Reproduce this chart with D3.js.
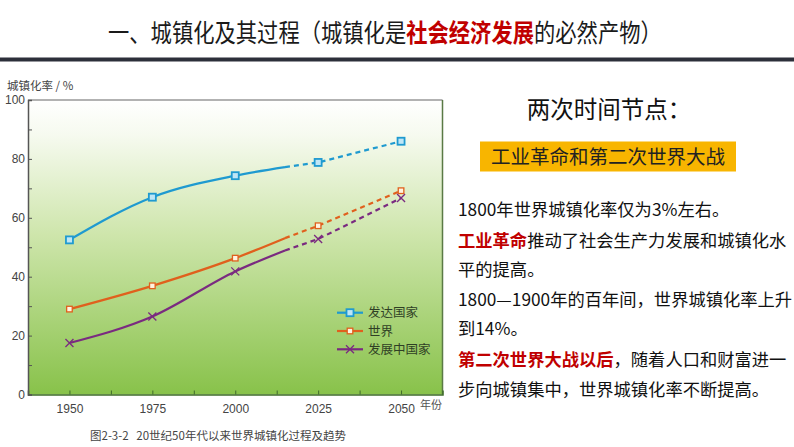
<!DOCTYPE html>
<html><head><meta charset="utf-8">
<script src="https://cdn.jsdelivr.net/npm/d3@7"></script>
<style>
html,body{margin:0;padding:0;background:#fff;}
svg{display:block;}
</style></head>
<body>
<svg id="c" width="794" height="447"></svg>
<script>
// ---- data ----
const yearsSolid = [1950, 1975, 2000, 2015];
const yearsDash = [2015, 2025, 2050];
const markerYears = [1950, 1975, 2000, 2025, 2050];
const allYears = [1950, 1975, 2000, 2015, 2025, 2050];
const developed = [52.5, 67.0, 74.3, 77.2, 78.8, 86.0];
const world     = [29.0, 36.9, 46.3, 53.1, 57.3, 69.2];
const developing= [17.5, 26.5, 41.8, 48.9, 52.8, 66.7];
const seriesNames = ["发达国家", "世界", "发展中国家"];
const xTicks = [1950, 1975, 2000, 2025, 2050];
const xMinor = [1962.5, 1987.5, 2012.5, 2037.5];
const yTicks = [0, 20, 40, 60, 80, 100];
const yMinor = [10, 30, 50, 70, 90];

const svg = d3.select("#c");
const font = "'Noto Sans CJK SC','Noto Sans',sans-serif";

// title: one text with tspans, horizontally condensed via a group transform
const titleParts = [["一、城镇化及其过程（城镇化是", 0], ["社会经济发展", 1], ["的必然产物）", 0]];
const tg = svg.append("g");
const title = tg.append("text").attr("x", 0).attr("y", 0).attr("font-family", font).attr("font-size", 25).attr("fill", "#1a1a1a");
titleParts.forEach(([s, red]) => {
  const ts = title.append("tspan").text(s);
  if (red) ts.attr("fill", "#c00000").attr("font-weight", "bold");
});
const tw = title.node().getComputedTextLength();
tg.attr("transform", `translate(108,42) scale(${554 / tw},1)`);
svg.append("rect").attr("x", 0).attr("y", 57.5).attr("width", 794).attr("height", 4).attr("fill", "#2c2f3a");

// chart
const L = 28, R = 442.5, T = 100, B = 394.5;
const x = d3.scaleLinear().domain([1937.5, 2062.5]).range([L, R]);
const y = d3.scaleLinear().domain([0, 100]).range([B, T]);

const defs = svg.append("defs");
const g = defs.append("linearGradient").attr("id", "bg").attr("x1", 0).attr("y1", 0).attr("x2", 0).attr("y2", 1);
g.append("stop").attr("offset", "0%").attr("stop-color", "#ffffff");
g.append("stop").attr("offset", "12%").attr("stop-color", "#f6faef");
g.append("stop").attr("offset", "45%").attr("stop-color", "#cfe6ad");
g.append("stop").attr("offset", "100%").attr("stop-color", "#88c24a");

svg.append("rect").attr("x", L).attr("y", T).attr("width", R - L).attr("height", B - T).attr("fill", "url(#bg)");
svg.append("line").attr("x1", L).attr("x2", R).attr("y1", T).attr("y2", T).attr("stroke", "#666").attr("stroke-width", 1.2);
svg.append("line").attr("x1", R).attr("x2", R).attr("y1", T).attr("y2", B).attr("stroke", "#5a7a45").attr("stroke-width", 1.5);

// axes
const xAxis = svg.append("g").attr("transform", `translate(0,${B})`)
  .call(d3.axisBottom(x).tickValues(xTicks).tickSize(-4).tickPadding(10).tickFormat(d3.format("d")));
xAxis.select(".domain").attr("stroke", "#3f6b2a").attr("stroke-width", 1.5);
xAxis.selectAll(".tick line").attr("stroke", "#3f6b2a");
xAxis.selectAll("text").attr("font-family", "'Liberation Sans',Arial,sans-serif").attr("font-size", 12).attr("fill", "#444");
svg.append("g").attr("transform", `translate(0,${B})`)
  .call(d3.axisBottom(x).tickValues(xMinor).tickSize(-4).tickFormat(""))
  .call(a => a.select(".domain").remove()).selectAll("line").attr("stroke", "#3f6b2a");
svg.append("text").attr("x", 420).attr("y", 409).attr("font-family", font).attr("font-size", 11).attr("fill", "#555").text("年份");

const yAxis = svg.append("g").attr("transform", `translate(${L},0)`)
  .call(d3.axisLeft(y).tickValues(yTicks).tickSize(-4).tickPadding(3));
yAxis.select(".domain").attr("stroke", "#555").attr("stroke-width", 1.5);
yAxis.selectAll(".tick line").attr("stroke", "#555");
yAxis.selectAll("text").attr("font-family", "'Liberation Sans',Arial,sans-serif").attr("font-size", 12).attr("fill", "#444");
svg.append("g").attr("transform", `translate(${L},0)`)
  .call(d3.axisLeft(y).tickValues(yMinor).tickSize(-4).tickFormat(""))
  .call(a => a.select(".domain").remove()).selectAll("line").attr("stroke", "#555");
svg.append("text").attr("x", 7).attr("y", 90).attr("font-family", font).attr("font-size", 11.5).attr("fill", "#444").text("城镇化率 / %");

// series
const colors = ["#1f9ad0", "#e0601d", "#7a2a80"];
const data = [developed, world, developing];
const solidLine = d3.line().x(d => x(d[0])).y(d => y(d[1])).curve(d3.curveMonotoneX);
const dashLine = d3.line().x(d => x(d[0])).y(d => y(d[1]));

function drawMarker(i, cx, cy) {
  if (i === 0) {
    svg.append("rect").attr("x", cx - 3.5).attr("y", cy - 3.5).attr("width", 7).attr("height", 7)
      .attr("fill", "#bfe6f6").attr("stroke", colors[0]).attr("stroke-width", 1.8);
  } else if (i === 1) {
    svg.append("rect").attr("x", cx - 2.8).attr("y", cy - 2.8).attr("width", 5.6).attr("height", 5.6)
      .attr("fill", "#fff3e0").attr("stroke", colors[1]).attr("stroke-width", 1.3);
  } else {
    const s = 4;
    svg.append("path").attr("d", `M${cx - s},${cy - s}L${cx + s},${cy + s}M${cx - s},${cy + s}L${cx + s},${cy - s}`)
      .attr("stroke", colors[2]).attr("stroke-width", 1.3).attr("fill", "none");
  }
}

data.forEach((vals, i) => {
  const pts = allYears.map((yr, j) => [yr, vals[j]]);
  const solid = pts.filter(p => yearsSolid.includes(p[0]));
  const dash = pts.filter(p => yearsDash.includes(p[0]));
  svg.append("path").attr("d", solidLine(solid)).attr("fill", "none").attr("stroke", colors[i]).attr("stroke-width", 2.2);
  svg.append("path").attr("d", dashLine(dash)).attr("fill", "none").attr("stroke", colors[i]).attr("stroke-width", 2.2)
    .attr("stroke-dasharray", "5,4");
  pts.filter(p => markerYears.includes(p[0])).forEach(p => drawMarker(i, x(p[0]), y(p[1])));
});

// legend
const legY = [312.7, 331, 349.3];
seriesNames.forEach((n, i) => {
  svg.append("line").attr("x1", 337).attr("x2", 363).attr("y1", legY[i]).attr("y2", legY[i])
    .attr("stroke", colors[i]).attr("stroke-width", 2.2);
  drawMarker(i, 350, legY[i]);
  svg.append("text").attr("x", 368).attr("y", legY[i] + 4.5).attr("font-family", font).attr("font-size", 12.5)
    .attr("fill", "#2f3f25").text(n);
});

// caption
svg.append("text").attr("x", 90).attr("y", 440).attr("font-family", font).attr("font-size", 11.5).attr("fill", "#444")
  .text("图2-3-2\u00a0\u00a0\u00a020世纪50年代以来世界城镇化过程及趋势");

// right panel
svg.append("text").attr("x", 609).attr("y", 118).attr("text-anchor", "middle").attr("font-family", font)
  .attr("font-size", 23.5).attr("fill", "#111").text("两次时间节点：");
svg.append("rect").attr("x", 480).attr("y", 141.5).attr("width", 256).attr("height", 30).attr("fill", "#f8b500");
svg.append("text").attr("x", 608).attr("y", 163.5).attr("text-anchor", "middle").attr("font-family", font)
  .attr("font-size", 19.5).attr("fill", "#222").text("工业革命和第二次世界大战");

const lines = [
  [["1800年世界城镇化率仅为3%左右。", 0]],
  [["工业革命", 1], ["推动了社会生产力发展和城镇化水", 0]],
  [["平的提高。", 0]],
  [["1800—1900年的百年间，世界城镇化率上升", 0]],
  [["到14%。", 0]],
  [["第二次世界大战以后", 1], ["，随着人口和财富进一", 0]],
  [["步向城镇集中，世界城镇化率不断提高。", 0]]
];
const lineY = [209.6, 240.6, 270, 299.5, 329, 360, 390];
lines.forEach((ln, i) => {
  const t = svg.append("text").attr("x", 458).attr("y", lineY[i] + 6).attr("font-family", font)
    .attr("font-size", 17.3).attr("fill", "#111");
  ln.forEach(([s, red]) => {
    const ts = t.append("tspan").text(s);
    if (red) ts.attr("fill", "#c00000").attr("font-weight", "bold");
  });
});
</script>
</body></html>
